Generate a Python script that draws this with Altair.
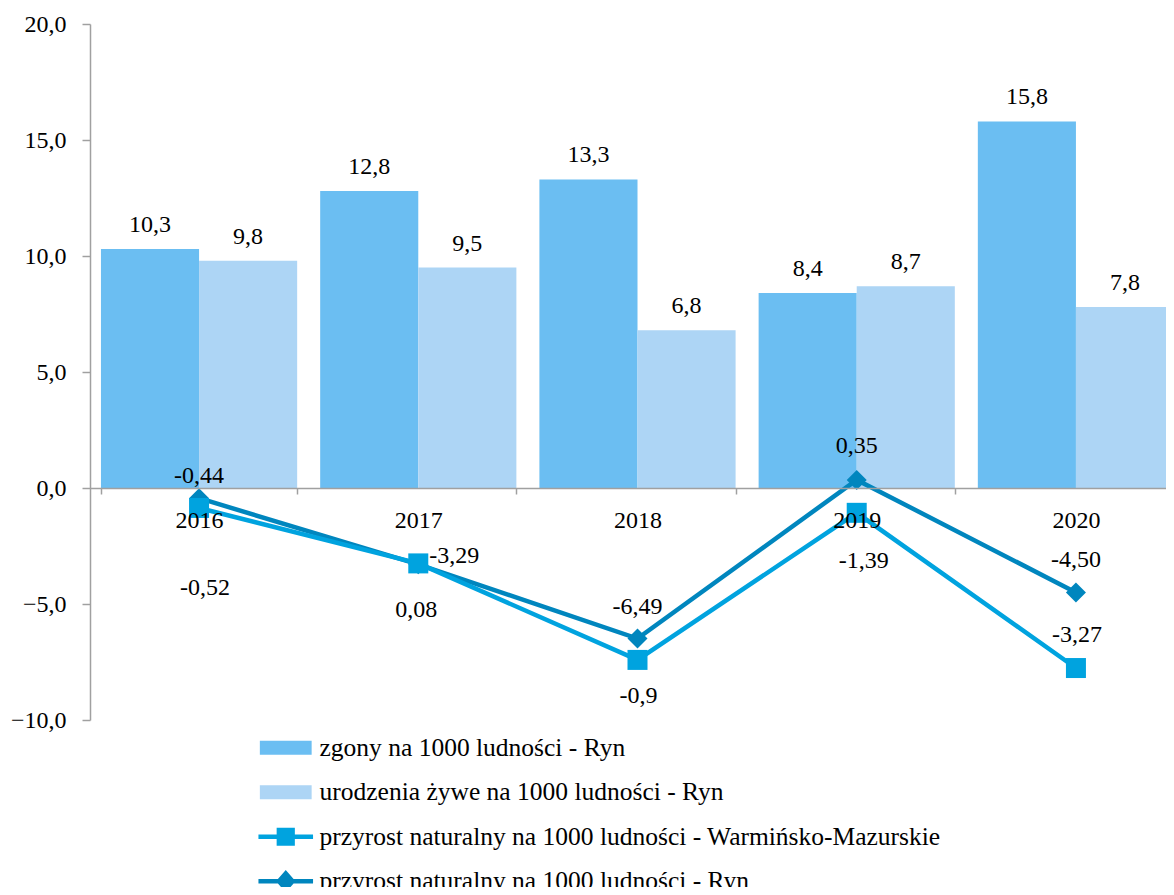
import altair as alt
import pandas as pd

years = ["2016", "2017", "2018", "2019", "2020"]
s_zg = "zgony na 1000 ludności - Ryn"
s_ur = "urodzenia żywe na 1000 ludności - Ryn"
s_wm = "przyrost naturalny na 1000 ludności - Warmińsko-Mazurskie"
s_ry = "przyrost naturalny na 1000 ludności - Ryn"
series_order = [s_zg, s_ur, s_wm, s_ry]

zgony = [10.3, 12.8, 13.3, 8.4, 15.8]
urodzenia = [9.8, 9.5, 6.8, 8.7, 7.8]
przyrost_wm = [-0.86, -3.25, -7.41, -1.07, -7.76]
przyrost_ryn = [-0.44, -3.29, -6.49, 0.35, -4.50]
wm_labels = ["-0,52", "0,08", "-0,9", "-1,39", "-3,27"]

# label placement offsets (pixels, relative to the point; baseline)
ryn_dx = [0, 36, 0, 0, 0]
ryn_dy = [-15, -1, -25, -27, -25]
wm_dx = [6, -2, 1, 7, 1]
wm_dy = [87, 54, 43, 55, -26]

colors = ["#6BBEF2", "#ADD5F5", "#00A3DF", "#0086BE"]

FONT = "Liberation Serif"

def fmt1(v):
    return f"{v:.1f}".replace(".", ",")

def fmt2(v):
    return f"{v:.2f}".replace(".", ",")

bars_rows = []
for i, y in enumerate(years):
    bars_rows.append({"year": y, "series": s_zg, "value": zgony[i], "label": fmt1(zgony[i])})
    bars_rows.append({"year": y, "series": s_ur, "value": urodzenia[i], "label": fmt1(urodzenia[i])})
bars_df = pd.DataFrame(bars_rows)

ryn_df = pd.DataFrame({"year": years, "series": s_ry, "value": przyrost_ryn,
                       "label": [fmt2(v) for v in przyrost_ryn]})
wm_df = pd.DataFrame({"year": years, "series": s_wm, "value": przyrost_wm,
                      "label": wm_labels})

x_scale = alt.Scale(domain=years, range=[0, 1095], paddingInner=0.105, paddingOuter=0.05)
y_scale = alt.Scale(domain=[-10, 20], nice=False, zero=False)
# marks colour scale (reversed order so that it stays separate from the legend scales)
color_scale = alt.Scale(domain=series_order[::-1], range=colors[::-1])

rect_path = "M-3.7,-1H3.7V1H-3.7Z"
wm_path = "M-3.9,-0.32H3.9V0.32H-3.9Z M-1.3,-1.3H1.3V1.3H-1.3Z"
ry_path = "M-3.9,-0.32H3.9V0.32H-3.9Z M0,-1.6L1.4,0L0,1.6L-1.4,0Z"
shape_scale = alt.Scale(domain=series_order, range=[rect_path, rect_path, wm_path, ry_path])
legend_fill_scale = alt.Scale(domain=series_order, range=colors)

x_axis = alt.Axis(title=None, orient="bottom", offset=-232, tickBand="extent", tickSize=6,
                  tickColor="#A0A0A0", domainColor="#A0A0A0", domainWidth=1.5, tickWidth=1.5,
                  labelFontSize=24, labelFont=FONT, labelColor="black", labelPadding=14,
                  labelAngle=0, grid=False, zindex=1)
y_axis = alt.Axis(title=None, values=[-10, -5, 0, 5, 10, 15, 20],
                  labelExpr="replace(format(datum.value, '.1f'), '.', ',')",
                  tickSize=8, tickColor="#A0A0A0", domainColor="#A0A0A0", domainWidth=1.5,
                  tickWidth=1.5, labelFontSize=24, labelFont=FONT, labelColor="black",
                  labelPadding=16, grid=False)

X = alt.X("year:N", scale=x_scale, axis=x_axis, sort=years)
Y = alt.Y("value:Q", scale=y_scale, axis=y_axis, stack=None)
XO_bar = alt.XOffset("series:N", scale=alt.Scale(domain=[s_zg, s_ur], paddingInner=0, paddingOuter=0))
XO_txt = alt.XOffset("series:N", scale=alt.Scale(type="point", domain=[s_zg, s_ur], padding=0.5))

bars = alt.Chart(bars_df).mark_bar().encode(
    x=X, xOffset=XO_bar, y=Y,
    color=alt.Color("series:N", scale=color_scale, legend=None),
)

bar_text = alt.Chart(bars_df).mark_text(baseline="alphabetic", dy=-17, fontSize=24,
                                        font=FONT, color="black").encode(
    x=X, xOffset=XO_txt, y=Y, text="label:N"
)

def line_layer(df):
    return alt.Chart(df).mark_line(strokeWidth=4.5).encode(
        x=X, y=Y, color=alt.Color("series:N", scale=color_scale, legend=None)
    )

def point_layer(df, shape):
    return alt.Chart(df).mark_point(filled=True, shape=shape, size=400, opacity=1).encode(
        x=X, y=Y, color=alt.Color("series:N", scale=color_scale, legend=None)
    )

def label_layers(df, dxs, dys):
    layers = []
    for i, yr in enumerate(years):
        layers.append(
            alt.Chart(df).transform_filter(alt.datum.year == yr).mark_text(
                baseline="alphabetic", fontSize=24, font=FONT, color="black",
                dx=dxs[i], dy=dys[i],
            ).encode(x=X, y=Y, text="label:N")
        )
    return layers

legend_props = dict(title=None, symbolOpacity=1, orient="none", legendX=183, legendY=711,
                    direction="vertical", labelFont=FONT, labelFontSize=25.5,
                    labelColor="black", labelLimit=2000, symbolSize=196,
                    symbolStrokeWidth=0, labelOffset=21, rowPadding=17.5, padding=0)
legend_layer = alt.Chart(bars_df).mark_point(filled=True, opacity=0).encode(
    x=X, y=Y,
    fill=alt.Fill("series:N", scale=legend_fill_scale, legend=alt.Legend(**legend_props)),
    shape=alt.Shape("series:N", scale=shape_scale, legend=alt.Legend(**legend_props)),
)

chart = alt.layer(
    bars, bar_text,
    line_layer(ryn_df), point_layer(ryn_df, "diamond"),
    line_layer(wm_df), point_layer(wm_df, "square"),
    *label_layers(ryn_df, ryn_dx, ryn_dy), *label_layers(wm_df, wm_dx, wm_dy),
    legend_layer,
).resolve_scale(xOffset="independent").properties(
    width=1076, height=696,
    autosize=alt.AutoSizeParams(type="none"),
    padding={"left": 82, "top": 16, "right": 0, "bottom": 167},
).configure(font=FONT).configure_view(stroke=None)

chart.save("out.html", embed_options={"renderer": "svg", "actions": False})
